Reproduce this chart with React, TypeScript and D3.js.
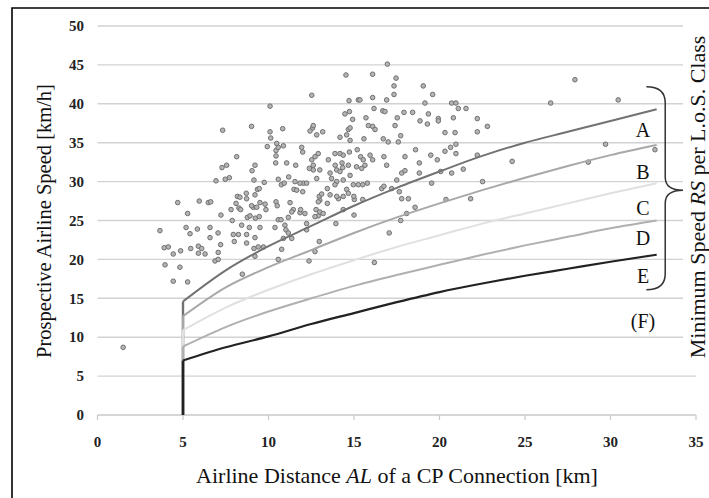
import * as d3 from 'd3'

// observed connections: [airline distance km, airline speed km/h]
const observed: [number, number][] = [
  [1.5, 8.7],
  [3.65, 23.7], [3.9, 21.5], [4.14, 21.6], [3.95, 19.3], [4.43, 20.7], [4.43, 17.2], [4.69, 27.3], [4.82, 19.0],
  [4.86, 21.1], [5.27, 25.9], [5.18, 24.1], [5.41, 23.3], [5.27, 17.1], [5.45, 21.4], [5.95, 27.5], [5.84, 23.9],
  [5.9, 21.7], [6.09, 21.4], [5.9, 20.8], [6.29, 20.7], [6.48, 27.3], [6.62, 27.4], [6.58, 24.1], [6.58, 22.8],
  [6.93, 30.1], [7.05, 23.4], [7.06, 20.9], [6.87, 19.8], [7.06, 20.0], [7.2, 21.9], [7.32, 36.6], [7.28, 31.8],
  [7.55, 32.1], [7.47, 30.3], [7.71, 30.5], [7.22, 25.7], [7.81, 26.4], [8.14, 33.2], [7.88, 25.0], [8.1, 27.2],
  [8.18, 28.1], [8.33, 28.0], [8.27, 26.6], [8.37, 26.4], [7.94, 23.2], [8.24, 23.2], [8.0, 22.3], [8.43, 24.4],
  [8.47, 18.1], [8.7, 28.5], [8.72, 27.8], [8.76, 25.4], [8.92, 25.6], [8.72, 23.2], [8.72, 22.1], [8.88, 24.1],
  [9.01, 37.1], [9.04, 31.4], [9.21, 32.1], [9.15, 30.2], [9.35, 29.0], [9.46, 29.1], [9.21, 28.3], [9.11, 26.7],
  [9.23, 25.3], [9.5, 27.3], [9.01, 26.9], [9.31, 26.7], [9.46, 25.5], [9.5, 24.1], [9.21, 22.8], [9.15, 21.4],
  [9.21, 20.4], [9.4, 21.6], [9.7, 21.6], [9.75, 29.9], [9.85, 26.4], [9.8, 27.1], [9.93, 34.5], [10.09, 39.7],
  [10.09, 36.4], [10.13, 35.6], [10.42, 32.4], [10.44, 34.0], [10.48, 34.9], [10.57, 34.4], [10.44, 33.3],
  [10.83, 36.8], [10.87, 34.6], [10.75, 29.6], [10.92, 29.8], [10.57, 30.3], [10.44, 27.4], [10.51, 26.9],
  [10.57, 25.1], [10.73, 25.1], [11.16, 25.4], [10.38, 24.1], [10.96, 24.4], [11.02, 23.8], [11.16, 23.4],
  [11.36, 22.7], [10.87, 22.7], [10.77, 21.3], [10.57, 20.0], [11.06, 32.4], [11.18, 30.6], [11.26, 27.3],
  [11.45, 26.4], [11.36, 26.1], [11.55, 30.0], [11.59, 32.1], [11.49, 29.0], [11.65, 28.9], [11.84, 26.0],
  [11.88, 26.4], [12.04, 29.8], [11.84, 29.8], [12.23, 29.8], [12.0, 28.7], [11.94, 34.4], [12.0, 33.8],
  [12.13, 25.9], [12.23, 24.6], [12.23, 23.8], [12.53, 41.1], [12.58, 36.9], [12.62, 37.2], [12.43, 36.5],
  [12.82, 36.0], [12.53, 32.8], [12.72, 33.2], [12.62, 32.1], [12.39, 31.7], [12.62, 31.5], [12.91, 33.6],
  [13.0, 31.5], [12.82, 30.4], [12.97, 28.1], [13.11, 28.4], [13.0, 27.6], [12.91, 27.4], [12.78, 26.4],
  [12.91, 25.6], [13.0, 26.1], [12.72, 25.5], [12.97, 22.3], [12.72, 21.0], [12.37, 19.8], [13.17, 36.4],
  [13.5, 32.8], [13.6, 31.1], [13.69, 30.4], [13.6, 28.3], [13.44, 29.1], [13.44, 27.2], [13.2, 25.9],
  [13.89, 33.6], [13.99, 31.5], [13.99, 30.0], [13.89, 29.6], [14.09, 27.8], [13.99, 28.1], [13.94, 24.6],
  [13.9, 32.1], [14.3, 32.4], [14.18, 35.7], [14.18, 33.6], [14.37, 33.4], [14.47, 38.7], [14.73, 39.0],
  [14.67, 36.7], [14.57, 36.0], [14.53, 43.7], [14.71, 40.4], [15.25, 40.5], [14.92, 38.0], [14.77, 35.3],
  [14.73, 33.8], [14.67, 32.1], [14.34, 31.8], [14.77, 30.8], [14.37, 30.2], [14.18, 31.3], [14.57, 29.0],
  [14.67, 28.5], [14.96, 29.6], [15.02, 27.7], [15.0, 25.7], [14.37, 26.4], [14.37, 28.1], [14.99, 28.1],
  [14.77, 36.9], [15.19, 34.1], [15.39, 33.2], [15.54, 32.8], [15.94, 33.4], [15.45, 31.7], [15.51, 29.6],
  [15.25, 29.6], [15.78, 29.8], [15.51, 27.7], [15.58, 35.5], [15.7, 38.2], [15.84, 37.2], [15.35, 40.5],
  [15.15, 31.9], [15.64, 32.1], [16.09, 43.8], [16.95, 45.1], [17.46, 43.3], [17.34, 42.3], [17.34, 41.2],
  [16.09, 40.8], [16.91, 40.5], [16.17, 39.4], [16.68, 39.1], [16.81, 39.0], [17.53, 38.2], [17.92, 38.9],
  [18.43, 38.9], [18.86, 37.8], [19.29, 37.4], [19.35, 38.7], [19.93, 38.1], [19.93, 37.8], [20.81, 38.2],
  [16.09, 37.1], [16.23, 36.7], [17.4, 37.2], [16.71, 35.5], [17.0, 35.1], [17.59, 35.1], [17.73, 35.9],
  [16.09, 32.8], [16.75, 33.2], [16.91, 32.1], [17.98, 33.2], [16.62, 29.1], [16.75, 29.4], [17.2, 29.1],
  [17.65, 28.7], [17.5, 30.2], [17.79, 31.1], [17.98, 31.4], [17.79, 27.8], [18.18, 27.8], [18.57, 26.7],
  [18.08, 25.9], [17.73, 25.0], [17.06, 23.4], [16.19, 19.6], [18.6, 34.1], [18.82, 32.4], [18.82, 31.1],
  [19.05, 42.3], [19.6, 41.2], [19.15, 40.1], [19.49, 33.4], [19.87, 32.8], [19.54, 29.8], [20.32, 33.9],
  [20.65, 34.4], [20.96, 34.8], [20.96, 33.6], [20.32, 36.3], [20.91, 36.3], [20.07, 31.3], [20.71, 31.1],
  [20.38, 27.7], [20.71, 40.1], [20.96, 40.1], [21.1, 39.4], [21.55, 39.4], [21.39, 31.6], [21.82, 27.8],
  [22.21, 38.1], [22.21, 36.4], [22.8, 37.1], [22.21, 33.4], [22.52, 30.0], [24.25, 32.6], [26.5, 40.1],
  [27.92, 43.1], [30.45, 40.5], [28.7, 32.5], [29.71, 34.8], [32.6, 34.1],
]

// minimum speed curves per class
const curveX = [5, 7.5, 10, 12.5, 15, 17.5, 20, 22.5, 25, 27.5, 30, 32.7]
const classA = [14.6, 18.6, 21.7, 24.3, 26.9, 29.2, 31.3, 33.3, 35.0, 36.4, 37.8, 39.3]
const classB = [12.7, 16.4, 19.0, 21.2, 23.4, 25.4, 27.2, 28.9, 30.5, 32.0, 33.4, 34.7]
const classC = [10.9, 13.8, 16.1, 18.1, 19.9, 21.6, 23.1, 24.6, 25.9, 27.2, 28.5, 29.8]
const classD = [8.8, 11.3, 13.3, 15.0, 16.6, 18.0, 19.3, 20.6, 21.8, 22.9, 24.0, 25.0]
const classE = [7.0, 8.7, 10.1, 11.7, 13.1, 14.5, 15.8, 16.9, 17.9, 18.8, 19.7, 20.6]

const classLabels = ['A', 'B', 'C', 'D', 'E', '(F)']
const classLabelY = [36.6, 31.2, 26.6, 22.7, 17.9, 12.1]

const xTicks = [0, 5, 10, 15, 20, 25, 30, 35]
const yTicks = [0, 5, 10, 15, 20, 25, 30, 35, 40, 45, 50]

const series = [
  { name: 'A', values: classA, color: '#727272', width: 2 },
  { name: 'B', values: classB, color: '#a8a8a8', width: 2 },
  { name: 'C', values: classC, color: '#e0e0e0', width: 2 },
  { name: 'D', values: classD, color: '#b0b0b0', width: 2 },
  { name: 'E', values: classE, color: '#222', width: 2.2 },
]

const width = 709
const height = 498
const serif = '"Liberation Serif", "Times New Roman", serif'

export default function App() {
  const x = d3.scaleLinear().domain([0, 35]).range([97.5, 696])
  const y = d3.scaleLinear().domain([0, 50]).range([415, 26])

  const curve = d3
    .line<[number, number]>()
    .curve(d3.curveMonotoneX)
    .x((d) => x(d[0]))
    .y((d) => y(d[1]))
  const stem = d3
    .line<[number, number]>()
    .x((d) => x(d[0]))
    .y((d) => y(d[1]))

  // brace around classes A-E
  const bl = x(32.1), bm = x(33.2), bt = x(34.25)
  const yt = y(42.2), ym = y(28.9), yb = y(16.1)
  const brace = `M${bl},${yt} Q${bm},${yt} ${bm},${yt + 16} L${bm},${ym - 13} Q${bm},${ym} ${bt},${ym} Q${bm},${ym} ${bm},${ym + 13} L${bm},${yb - 16} Q${bm},${yb} ${bl},${yb}`

  return (
    <svg width={width} height={height} style={{ position: 'absolute', left: 0, top: 0, background: '#fff' }}>
      <rect x={0} y={0} width={width} height={height} fill="#fff" />
      {/* frame */}
      <path d={`M12,${height} L12,8 L${width},8`} fill="none" stroke="#000" strokeWidth={1.6} />

      {/* grid */}
      {yTicks.slice(1).map((t) => (
        <line key={t} x1={x(0)} x2={x(35)} y1={y(t)} y2={y(t)} stroke="#d2d2d2" strokeWidth={1.4} />
      ))}
      <line x1={x(0)} x2={x(35)} y1={y(0)} y2={y(0)} stroke="#c8c8c8" strokeWidth={1.4} />
      {xTicks.map((t) => (
        <line key={t} x1={x(t)} x2={x(t)} y1={y(0)} y2={y(0) + 5} stroke="#c8c8c8" strokeWidth={1.2} />
      ))}

      {/* tick labels */}
      {yTicks.map((t) => (
        <text key={t} x={84} y={y(t)} dy="0.35em" textAnchor="end" fontFamily={serif} fontWeight="bold" fontSize={15} fill="#222">
          {t}
        </text>
      ))}
      {xTicks.map((t) => (
        <text key={t} x={x(t)} y={447} textAnchor="middle" fontFamily={serif} fontWeight="bold" fontSize={15} fill="#222">
          {t}
        </text>
      ))}

      {/* observations */}
      {observed.map((d, i) => (
        <circle key={i} cx={x(d[0])} cy={y(d[1])} r={2.3} fill="#b4b4b4" stroke="#707070" strokeWidth={1} />
      ))}

      {/* class curves */}
      {series.map((s) => {
        const pts: [number, number][] = curveX.map((v, i) => [v, s.values[i]])
        return (
          <g key={s.name}>
            <path d={stem([[curveX[0], 0], [curveX[0], s.values[0]]]) || ''} fill="none" stroke={s.color} strokeWidth={s.width + 0.4} />
            <path d={curve(pts) || ''} fill="none" stroke={s.color} strokeWidth={s.width} />
          </g>
        )
      })}

      {/* class letters */}
      {classLabels.map((l, i) => (
        <text key={l} x={x(31.9)} y={y(classLabelY[i])} dy="0.35em" textAnchor="middle" fontFamily={serif} fontSize={20} fill="#111">
          {l}
        </text>
      ))}
      <path d={brace} fill="none" stroke="#333" strokeWidth={1.5} />

      {/* right label */}
      <rect x={683} y={20} width={26} height={352} fill="#fff" />
      <text transform={`translate(705,197) rotate(-90)`} textAnchor="middle" fontFamily={serif} fontSize={22} fill="#111">
        Minimum Speed <tspan fontStyle="italic">RS</tspan> per L.o.S. Class
      </text>

      {/* axis titles */}
      <text transform={`translate(51,221) rotate(-90)`} textAnchor="middle" fontFamily={serif} fontSize={20.5} fill="#111">
        Prospective Airline Speed [km/h]
      </text>
      <text x={397} y={483} textAnchor="middle" fontFamily={serif} fontSize={22} fill="#111">
        Airline Distance <tspan fontStyle="italic">AL</tspan> of a CP Connection [km]
      </text>
    </svg>
  )
}
